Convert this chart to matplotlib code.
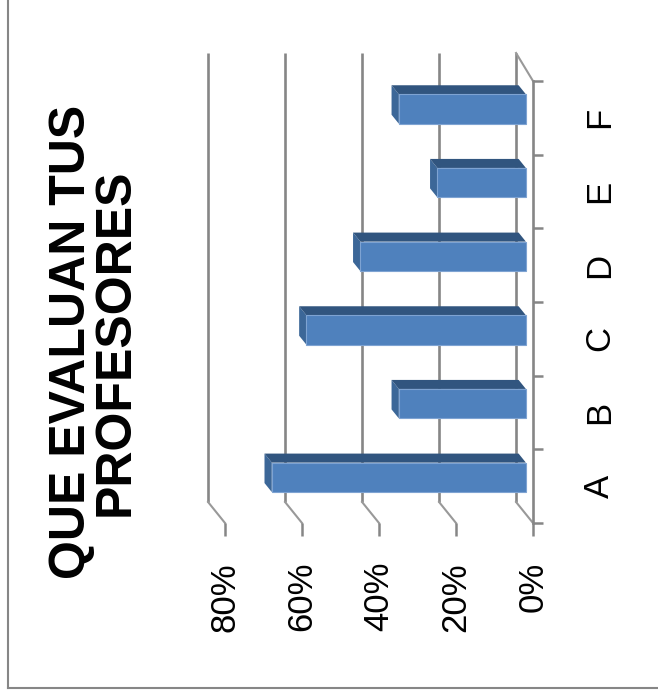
import matplotlib
matplotlib.use("Agg")
import matplotlib.pyplot as plt
from matplotlib.patches import Polygon
from matplotlib.lines import Line2D

plt.rcParams['font.family'] = ['Liberation Sans', 'DejaVu Sans']

# Data
categories = ['A', 'B', 'C', 'D', 'E', 'F']
values = [66, 33, 57, 43, 23, 33]          # percent
value_ticks = [0, 20, 40, 60, 80]
value_labels = ['0%', '20%', '40%', '60%', '80%']
title = 'QUE EVALUAN TUS\nPROFESORES'

# Styling
FRONT = '#4F81BD'
SIDE = '#31557F'
END = '#3C6798'
GRID = '#868686'
DEPTH_X, DEPTH_Y = 4.4, 0.285   # full floor depth in data units
F0, F1 = 0.42, 0.85             # bar front / back depth fractions
HALF = 0.2                      # half bar thickness (category units)

W, H = 658, 699
fig = plt.figure(figsize=(W / 100, H / 100), dpi=100)
ax = fig.add_axes([225 / W, (H - 523) / H, 308 / W, 442 / H])
ax.set_xlim(80, 0)
ax.set_ylim(-0.5, len(categories) - 0.5)
ax.patch.set_visible(False)

# Back wall gridlines and floor diagonals
ytop_back = len(categories) - 0.5 + 0.38
for v in value_ticks:
    ax.plot([v + DEPTH_X, v + DEPTH_X], [-0.5 + DEPTH_Y, ytop_back],
            color=GRID, lw=1.9, clip_on=False, zorder=1, solid_capstyle='butt')
    ax.plot([v + DEPTH_X, v], [-0.5 + DEPTH_Y, -0.5],
            color='#999999', lw=1.5, clip_on=False, zorder=1)
# side wall top edge
ax.plot([DEPTH_X, 0], [ytop_back, len(categories) - 0.5],
        color='#999999', lw=1.5, clip_on=False, zorder=1)

# Bars with a simple 3D look
ypos = list(range(len(categories)))
ax.barh([y + F0 * DEPTH_Y for y in ypos], values, height=2 * HALF,
        left=F0 * DEPTH_X, color=FRONT, edgecolor='#7EA3D2', linewidth=0.8,
        zorder=3, clip_on=False)
for y, v in zip(ypos, values):
    side = [(F0 * DEPTH_X, y + HALF + F0 * DEPTH_Y),
            (v + F0 * DEPTH_X, y + HALF + F0 * DEPTH_Y),
            (v + F1 * DEPTH_X, y + HALF + F1 * DEPTH_Y),
            (F1 * DEPTH_X, y + HALF + F1 * DEPTH_Y)]
    end = [(v + F0 * DEPTH_X, y - HALF + F0 * DEPTH_Y),
           (v + F0 * DEPTH_X, y + HALF + F0 * DEPTH_Y),
           (v + F1 * DEPTH_X, y + HALF + F1 * DEPTH_Y),
           (v + F1 * DEPTH_X, y - HALF + F1 * DEPTH_Y)]
    ax.add_patch(Polygon(side, closed=True, facecolor=SIDE, edgecolor='none',
                         zorder=2.9, clip_on=False))
    ax.add_patch(Polygon(end, closed=True, facecolor=END, edgecolor='none',
                         zorder=2.8, clip_on=False))

# Axes: value axis at bottom, category axis on the right
for s in ['top', 'left', 'bottom']:
    ax.spines[s].set_visible(False)
ax.spines['right'].set_color(GRID)
ax.spines['right'].set_linewidth(1.9)

ax.set_xticks(value_ticks)
ax.set_xticklabels(value_labels, rotation=90, fontsize=25)
ax.tick_params(axis='x', direction='out', length=9, width=1.8, color=GRID,
               pad=19)

ax.yaxis.tick_right()
ax.set_yticks(ypos)
ax.set_yticklabels(categories, rotation=90, fontsize=25, va='center')
ax.set_yticks([y - 0.5 for y in range(len(categories) + 1)], minor=True)
ax.tick_params(axis='y', which='major', length=0, pad=36)
ax.tick_params(axis='y', which='minor', direction='out', length=7, width=1.8,
               color=GRID)

# Title
fig.text(94 / W, (H - 342) / H, title, rotation=90, ha='center', va='center',
         multialignment='center', fontsize=36, fontweight='bold',
         linespacing=0.95)

# Chart border
fig.add_artist(Line2D([8 / W, 8 / W], [1.0, 11 / H], color=GRID, lw=1.5))
fig.add_artist(Line2D([8 / W, 1.0], [11 / H, 11 / H], color=GRID, lw=1.5))

fig.savefig('out.png', dpi=100, facecolor='white')
